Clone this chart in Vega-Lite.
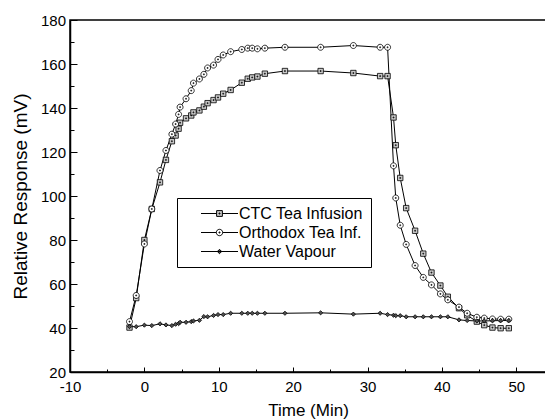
{
  "$schema": "https://vega.github.io/schema/vega-lite/v6.json",
  "width": 476,
  "height": 352,
  "autosize": {"type": "none"},
  "padding": {"left": 70, "top": 20, "right": 0, "bottom": 48},
  "background": "white",
  "config": {
    "view": {"stroke": "black", "strokeWidth": 1.5},
    "font": "Liberation Sans",
    "axis": {
      "grid": false,
      "domainColor": "black",
      "domainWidth": 1.5,
      "tickColor": "black",
      "tickWidth": 1,
      "labelColor": "black",
      "titleColor": "black",
      "labelFontSize": 15,
      "titleFontSize": 17,
      "titleFontWeight": "normal",
      "labelFlush": false,
      "labelOverlap": false
    }
  },
  "datasets": {
    "main": [
      {"series": "CTC Tea Infusion", "t": -2, "v": 40.2},
      {"series": "CTC Tea Infusion", "t": -1.1, "v": 53.6},
      {"series": "CTC Tea Infusion", "t": 0, "v": 80},
      {"series": "CTC Tea Infusion", "t": 1, "v": 94.1},
      {"series": "CTC Tea Infusion", "t": 2.1, "v": 106.2},
      {"series": "CTC Tea Infusion", "t": 2.9, "v": 116.4},
      {"series": "CTC Tea Infusion", "t": 3.7, "v": 124.9},
      {"series": "CTC Tea Infusion", "t": 4.2, "v": 127.5},
      {"series": "CTC Tea Infusion", "t": 4.6, "v": 130.6},
      {"series": "CTC Tea Infusion", "t": 4.8, "v": 133.3},
      {"series": "CTC Tea Infusion", "t": 5.6, "v": 135.3},
      {"series": "CTC Tea Infusion", "t": 6.3, "v": 136.6},
      {"series": "CTC Tea Infusion", "t": 6.6, "v": 138},
      {"series": "CTC Tea Infusion", "t": 7.4, "v": 138.9},
      {"series": "CTC Tea Infusion", "t": 8, "v": 140.6},
      {"series": "CTC Tea Infusion", "t": 8.5, "v": 142.2},
      {"series": "CTC Tea Infusion", "t": 9.3, "v": 143.6},
      {"series": "CTC Tea Infusion", "t": 9.9, "v": 144.8},
      {"series": "CTC Tea Infusion", "t": 10.6, "v": 146.5},
      {"series": "CTC Tea Infusion", "t": 11.6, "v": 148.2},
      {"series": "CTC Tea Infusion", "t": 13.1, "v": 151.5},
      {"series": "CTC Tea Infusion", "t": 13.9, "v": 153.3},
      {"series": "CTC Tea Infusion", "t": 14.5, "v": 153.9},
      {"series": "CTC Tea Infusion", "t": 15.2, "v": 154.3},
      {"series": "CTC Tea Infusion", "t": 16.2, "v": 155.6},
      {"series": "CTC Tea Infusion", "t": 18.9, "v": 156.8},
      {"series": "CTC Tea Infusion", "t": 23.7, "v": 156.8},
      {"series": "CTC Tea Infusion", "t": 28.1, "v": 155.9},
      {"series": "CTC Tea Infusion", "t": 31.7, "v": 154.5},
      {"series": "CTC Tea Infusion", "t": 32.7, "v": 154.5},
      {"series": "CTC Tea Infusion", "t": 33.5, "v": 135.7},
      {"series": "CTC Tea Infusion", "t": 33.8, "v": 123.1},
      {"series": "CTC Tea Infusion", "t": 34.4, "v": 108.2},
      {"series": "CTC Tea Infusion", "t": 35.2, "v": 94.5},
      {"series": "CTC Tea Infusion", "t": 36.4, "v": 84.2},
      {"series": "CTC Tea Infusion", "t": 37.5, "v": 73.8},
      {"series": "CTC Tea Infusion", "t": 38.6, "v": 65.2},
      {"series": "CTC Tea Infusion", "t": 39.8, "v": 59.3},
      {"series": "CTC Tea Infusion", "t": 40.8, "v": 54.2},
      {"series": "CTC Tea Infusion", "t": 42.3, "v": 49},
      {"series": "CTC Tea Infusion", "t": 43.4, "v": 45.8},
      {"series": "CTC Tea Infusion", "t": 44.7, "v": 42.9},
      {"series": "CTC Tea Infusion", "t": 45.7, "v": 41.3},
      {"series": "CTC Tea Infusion", "t": 46.8, "v": 40.2},
      {"series": "CTC Tea Infusion", "t": 47.9, "v": 39.9},
      {"series": "CTC Tea Infusion", "t": 49, "v": 39.9},
      {"series": "Orthodox Tea Inf.", "t": -2, "v": 42.9},
      {"series": "Orthodox Tea Inf.", "t": -1.1, "v": 54.8},
      {"series": "Orthodox Tea Inf.", "t": 0, "v": 78.2},
      {"series": "Orthodox Tea Inf.", "t": 1, "v": 94.1},
      {"series": "Orthodox Tea Inf.", "t": 2.1, "v": 111.6},
      {"series": "Orthodox Tea Inf.", "t": 2.9, "v": 120.7},
      {"series": "Orthodox Tea Inf.", "t": 3.7, "v": 128.1},
      {"series": "Orthodox Tea Inf.", "t": 4.2, "v": 132.7},
      {"series": "Orthodox Tea Inf.", "t": 4.6, "v": 137.1},
      {"series": "Orthodox Tea Inf.", "t": 4.8, "v": 140.4},
      {"series": "Orthodox Tea Inf.", "t": 5.6, "v": 144.2},
      {"series": "Orthodox Tea Inf.", "t": 6.3, "v": 147.9},
      {"series": "Orthodox Tea Inf.", "t": 6.6, "v": 151.3},
      {"series": "Orthodox Tea Inf.", "t": 7.4, "v": 153.2},
      {"series": "Orthodox Tea Inf.", "t": 8, "v": 155.3},
      {"series": "Orthodox Tea Inf.", "t": 8.5, "v": 158.2},
      {"series": "Orthodox Tea Inf.", "t": 9.3, "v": 159.5},
      {"series": "Orthodox Tea Inf.", "t": 9.9, "v": 162.1},
      {"series": "Orthodox Tea Inf.", "t": 10.6, "v": 164.1},
      {"series": "Orthodox Tea Inf.", "t": 11.6, "v": 165.6},
      {"series": "Orthodox Tea Inf.", "t": 13.1, "v": 166.6},
      {"series": "Orthodox Tea Inf.", "t": 13.9, "v": 167.2},
      {"series": "Orthodox Tea Inf.", "t": 14.5, "v": 167.2},
      {"series": "Orthodox Tea Inf.", "t": 15.2, "v": 166.9},
      {"series": "Orthodox Tea Inf.", "t": 16.2, "v": 167.2},
      {"series": "Orthodox Tea Inf.", "t": 18.9, "v": 167.6},
      {"series": "Orthodox Tea Inf.", "t": 23.7, "v": 167.6},
      {"series": "Orthodox Tea Inf.", "t": 28.1, "v": 168.4},
      {"series": "Orthodox Tea Inf.", "t": 31.7, "v": 167.6},
      {"series": "Orthodox Tea Inf.", "t": 32.7, "v": 167.6},
      {"series": "Orthodox Tea Inf.", "t": 33.5, "v": 113.7},
      {"series": "Orthodox Tea Inf.", "t": 33.8, "v": 99.1},
      {"series": "Orthodox Tea Inf.", "t": 34.4, "v": 86.7},
      {"series": "Orthodox Tea Inf.", "t": 35.2, "v": 78},
      {"series": "Orthodox Tea Inf.", "t": 36.4, "v": 68.4},
      {"series": "Orthodox Tea Inf.", "t": 37.5, "v": 63},
      {"series": "Orthodox Tea Inf.", "t": 38.6, "v": 59.6},
      {"series": "Orthodox Tea Inf.", "t": 39.8, "v": 55.5},
      {"series": "Orthodox Tea Inf.", "t": 40.8, "v": 52.8},
      {"series": "Orthodox Tea Inf.", "t": 42.3, "v": 49.5},
      {"series": "Orthodox Tea Inf.", "t": 43.4, "v": 46.7},
      {"series": "Orthodox Tea Inf.", "t": 44.7, "v": 44.9},
      {"series": "Orthodox Tea Inf.", "t": 45.7, "v": 44.5},
      {"series": "Orthodox Tea Inf.", "t": 46.8, "v": 44.1},
      {"series": "Orthodox Tea Inf.", "t": 47.9, "v": 44},
      {"series": "Orthodox Tea Inf.", "t": 49, "v": 44},
      {"series": "Water Vapour", "t": -2, "v": 40.6},
      {"series": "Water Vapour", "t": -1.1, "v": 40.6},
      {"series": "Water Vapour", "t": 0, "v": 41.3},
      {"series": "Water Vapour", "t": 1, "v": 41.1},
      {"series": "Water Vapour", "t": 2.1, "v": 41.9},
      {"series": "Water Vapour", "t": 2.9, "v": 41.4},
      {"series": "Water Vapour", "t": 3.7, "v": 41.1},
      {"series": "Water Vapour", "t": 4.2, "v": 41.7},
      {"series": "Water Vapour", "t": 4.6, "v": 42},
      {"series": "Water Vapour", "t": 4.8, "v": 42.6},
      {"series": "Water Vapour", "t": 5.6, "v": 42.6},
      {"series": "Water Vapour", "t": 6.3, "v": 42.9},
      {"series": "Water Vapour", "t": 6.6, "v": 43.2},
      {"series": "Water Vapour", "t": 7.4, "v": 43.5},
      {"series": "Water Vapour", "t": 8, "v": 45.2},
      {"series": "Water Vapour", "t": 8.5, "v": 45.1},
      {"series": "Water Vapour", "t": 9.3, "v": 45.7},
      {"series": "Water Vapour", "t": 9.9, "v": 46.1},
      {"series": "Water Vapour", "t": 10.6, "v": 46.1},
      {"series": "Water Vapour", "t": 11.6, "v": 46.7},
      {"series": "Water Vapour", "t": 13.1, "v": 46.7},
      {"series": "Water Vapour", "t": 13.9, "v": 46.7},
      {"series": "Water Vapour", "t": 14.5, "v": 46.7},
      {"series": "Water Vapour", "t": 15.2, "v": 46.7},
      {"series": "Water Vapour", "t": 16.2, "v": 46.7},
      {"series": "Water Vapour", "t": 18.9, "v": 46.7},
      {"series": "Water Vapour", "t": 23.7, "v": 46.9},
      {"series": "Water Vapour", "t": 28.1, "v": 46.3},
      {"series": "Water Vapour", "t": 31.7, "v": 46.7},
      {"series": "Water Vapour", "t": 32.7, "v": 46.1},
      {"series": "Water Vapour", "t": 33.5, "v": 45.8},
      {"series": "Water Vapour", "t": 33.8, "v": 45.6},
      {"series": "Water Vapour", "t": 34.4, "v": 45.6},
      {"series": "Water Vapour", "t": 35.2, "v": 45.1},
      {"series": "Water Vapour", "t": 36.4, "v": 45.1},
      {"series": "Water Vapour", "t": 37.5, "v": 45.1},
      {"series": "Water Vapour", "t": 38.6, "v": 45.1},
      {"series": "Water Vapour", "t": 39.8, "v": 45.1},
      {"series": "Water Vapour", "t": 40.8, "v": 45.1},
      {"series": "Water Vapour", "t": 42.3, "v": 43.7},
      {"series": "Water Vapour", "t": 43.4, "v": 43.4},
      {"series": "Water Vapour", "t": 44.7, "v": 43.2},
      {"series": "Water Vapour", "t": 45.7, "v": 43.2},
      {"series": "Water Vapour", "t": 46.8, "v": 43.3},
      {"series": "Water Vapour", "t": 47.9, "v": 43.4},
      {"series": "Water Vapour", "t": 49, "v": 43.4}
    ]
  },
  "data": {"name": "main"},
  "encoding": {
    "x": {
      "field": "t",
      "type": "quantitative",
      "scale": {"domain": [-10, 54], "nice": false, "zero": false},
      "axis": {
        "title": "Time (Min)",
        "values": [-10, -5, 0, 5, 10, 15, 20, 25, 30, 35, 40, 45, 50],
        "labelExpr": "datum.value % 10 === 0 ? '' + datum.value : ''",
        "tickSize": {"condition": {"test": "datum.value % 10 === 0", "value": -5}, "value": -3},
        "labelPadding": 12.5,
        "titlePadding": 6
      }
    },
    "y": {
      "field": "v",
      "type": "quantitative",
      "scale": {"domain": [20, 180], "nice": false, "zero": false},
      "axis": {
        "title": "Relative Response (mV)",
        "titleFontSize": 19,
        "values": [20, 30, 40, 50, 60, 70, 80, 90, 100, 110, 120, 130, 140, 150, 160, 170, 180],
        "labelExpr": "datum.value % 20 === 0 ? '' + datum.value : ''",
        "tickSize": {"condition": {"test": "datum.value % 20 === 0", "value": -7}, "value": -4},
        "labelPadding": 11.5,
        "titlePadding": 10
      }
    }
  },
  "layer": [
    {
      "mark": {"type": "line", "color": "black", "strokeWidth": 1},
      "encoding": {"detail": {"field": "series"}}
    },
    {
      "mark": {"type": "point", "filled": true, "stroke": "black", "strokeWidth": 0.8, "opacity": 1, "size": 36},
      "encoding": {
        "shape": {
          "field": "series",
          "scale": {
            "domain": ["CTC Tea Infusion", "Orthodox Tea Inf.", "Water Vapour"],
            "range": [
              "M-0.9,-0.9H0.9V0.9H-0.9ZM-0.15,-0.15H0.15V0.15H-0.15Z",
              "M-1,0A1,1 0 1,1 1,0A1,1 0 1,1 -1,0ZM-0.15,-0.15H0.15V0.15H-0.15Z",
              "M0,-0.7L0.7,0L0,0.7L-0.7,0Z"
            ]
          },
          "legend": null
        },
        "fill": {
          "field": "series",
          "scale": {
            "domain": ["CTC Tea Infusion", "Orthodox Tea Inf.", "Water Vapour"],
            "range": ["#c8c8c8", "#ffffff", "#505050"]
          },
          "legend": null
        }
      }
    },
    {
      "transform": [{"filter": "false"}],
      "mark": {"type": "point", "filled": true, "stroke": "black", "strokeWidth": 1, "opacity": 1},
      "encoding": {
        "shape": {
          "field": "series",
          "scale": {
            "domain": ["CTC Tea Infusion", "Orthodox Tea Inf.", "Water Vapour"],
            "range": [
              "M-4.625,0H-0.72M0.72,0H4.625M-0.72,-0.72H0.72V0.72H-0.72ZM-0.12,-0.12H0.12V0.12H-0.12Z",
              "M-4.625,0H-0.8M0.8,0H4.625M-0.8,0A0.8,0.8 0 1,1 0.8,0A0.8,0.8 0 1,1 -0.8,0ZM-0.12,-0.12H0.12V0.12H-0.12Z",
              "M-4.625,0H4.625M0,-0.55L0.55,0L0,0.55L-0.55,0Z"
            ]
          },
          "legend": {
            "orient": "none", "legendX": 107, "legendY": 178, "title": null,
            "strokeColor": "black", "fillColor": "white", "padding": 7.5,
            "labelFontSize": 16, "labelColor": "black", "rowPadding": 3,
            "symbolSize": 64, "symbolStrokeWidth": 1,
            "symbolOffset": 27, "labelOffset": 11.5
          }
        },
        "fill": {
          "field": "series",
          "scale": {
            "domain": ["CTC Tea Infusion", "Orthodox Tea Inf.", "Water Vapour"],
            "range": ["#c8c8c8", "#ffffff", "#505050"]
          },
          "legend": {
            "orient": "none", "legendX": 107, "legendY": 178, "title": null,
            "strokeColor": "black", "fillColor": "white", "padding": 7.5,
            "labelFontSize": 16, "labelColor": "black", "rowPadding": 3,
            "symbolSize": 64, "symbolStrokeWidth": 1,
            "symbolOffset": 27, "labelOffset": 11.5
          }
        },
        "stroke": {
          "field": "series",
          "scale": {
            "domain": ["CTC Tea Infusion", "Orthodox Tea Inf.", "Water Vapour"],
            "range": ["black", "black", "black"]
          },
          "legend": {
            "orient": "none", "legendX": 107, "legendY": 178, "title": null,
            "strokeColor": "black", "fillColor": "white", "padding": 7.5,
            "labelFontSize": 16, "labelColor": "black", "rowPadding": 3,
            "symbolSize": 64, "symbolStrokeWidth": 1,
            "symbolOffset": 27, "labelOffset": 11.5
          }
        }
      }
    }
  ],
  "resolve": {"scale": {"shape": "independent", "fill": "independent", "stroke": "independent"}}
}
